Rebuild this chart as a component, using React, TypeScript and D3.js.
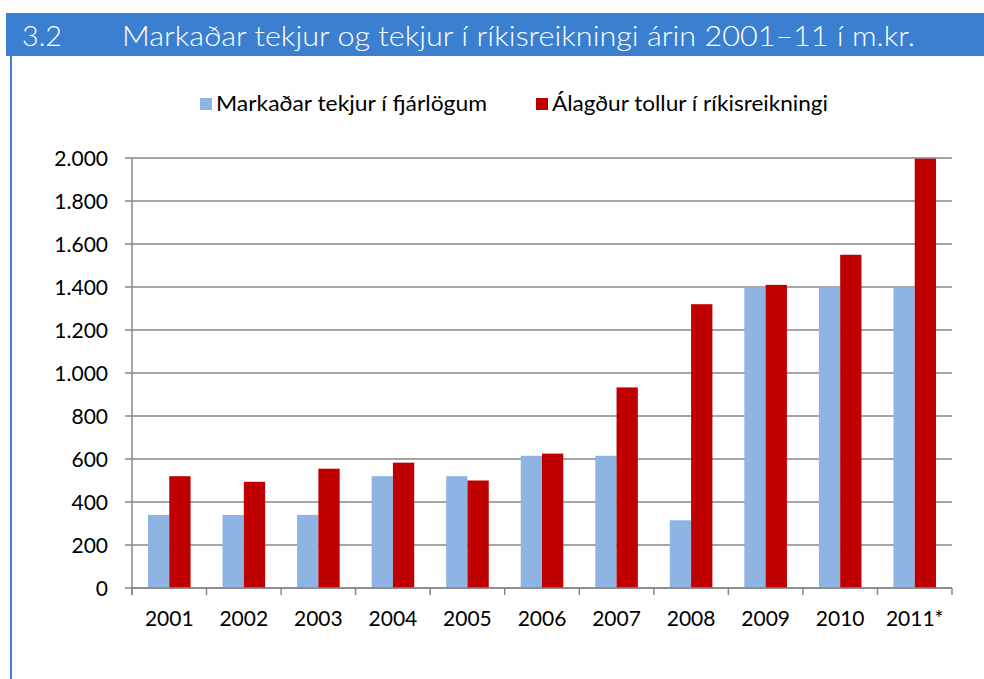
import React from 'react';
import * as d3 from 'd3';

const years = ['2001', '2002', '2003', '2004', '2005', '2006', '2007', '2008', '2009', '2010', '2011*'];
const fjarlog = [340, 340, 340, 520, 520, 615, 615, 315, 1400, 1400, 1400];
const rikisreikningur = [520, 494, 555, 583, 500, 625, 933, 1320, 1410, 1550, 1997];
const seriesNames = ['Markaðar tekjur í fjárlögum', 'Álagður tollur í ríkisreikningi'];
const seriesColors = ['#8eb4e3', '#c00000'];
const yTicks = [0, 200, 400, 600, 800, 1000, 1200, 1400, 1600, 1800, 2000];

const W = 984;
const H = 679;
const margin = { top: 158, right: 32, bottom: 91, left: 132 };

const fmt = (v: number) => d3.format(',')(v).replace(/,/g, '.');

export default function App() {
  const x = d3.scaleBand<string>()
    .domain(years)
    .range([margin.left, W - margin.right])
    .paddingInner(0)
    .paddingOuter(0);

  // two bars side by side in the middle of each year band
  const x1 = d3.scaleBand<string>()
    .domain(['a', 'b'])
    .range([0, x.bandwidth()])
    .paddingInner(0)
    .paddingOuter(0.75);

  const y = d3.scaleLinear()
    .domain([0, 2000])
    .range([H - margin.bottom, margin.top]);

  const series = [fjarlog, rikisreikningur];
  const font = 'Lato, "Open Sans", sans-serif';
  const grid = '#878787';
  const x0 = margin.left;
  const xEnd = W - margin.right;

  return (
    <svg width={W} height={H} style={{ position: 'absolute', left: 0, top: 0, background: '#fff' }} fontFamily={font}>
      {/* title bar */}
      <rect x={6} y={13} width={W - 6} height={43} fill="#3b7fd1" />
      <line x1={11} x2={11} y1={56} y2={H} stroke="#3b7fd1" strokeWidth={2} />
      <text x={22} y={46} fill="#fff" fontSize={28} fontWeight={300} textLength={40} lengthAdjust="spacingAndGlyphs">3.2</text>
      <text x={122} y={46} fill="#fff" fontSize={28} fontWeight={300} textLength={793} lengthAdjust="spacingAndGlyphs">
        Markaðar tekjur og tekjur í ríkisreikningi árin 2001–11 í m.kr.
      </text>

      {/* legend */}
      <rect x={200} y={98} width={12} height={12} fill={seriesColors[0]} />
      <text x={216} y={111} fontSize={21} fill="#000" textLength={271} lengthAdjust="spacingAndGlyphs">{seriesNames[0]}</text>
      <rect x={536} y={98} width={12} height={12} fill={seriesColors[1]} />
      <text x={552} y={111} fontSize={21} fill="#000" textLength={276} lengthAdjust="spacingAndGlyphs">{seriesNames[1]}</text>

      {/* gridlines and y ticks */}
      {yTicks.map(t => (
        <g key={t}>
          <line x1={x0 - 7} x2={xEnd} y1={y(t)} y2={y(t)} stroke={grid} strokeWidth={1.5} />
          <text x={108} y={y(t)} dy="0.36em" textAnchor="end" fontSize={21} fill="#000">{fmt(t)}</text>
        </g>
      ))}
      <line x1={x0} x2={x0} y1={y(2000)} y2={y(0) + 7} stroke={grid} strokeWidth={1.5} />

      {/* bars */}
      {years.map((yr, i) => (
        <g key={yr} transform={`translate(${x(yr)},0)`}>
          {series.map((s, j) => (
            <rect
              key={j}
              x={x1(j === 0 ? 'a' : 'b')}
              y={y(s[i])}
              width={x1.bandwidth()}
              height={y(0) - y(s[i])}
              fill={seriesColors[j]}
            />
          ))}
        </g>
      ))}

      {/* x axis */}
      <line x1={x0} x2={xEnd} y1={y(0)} y2={y(0)} stroke={grid} strokeWidth={1.5} />
      {years.map(yr => (
        <line key={yr} x1={x(yr)} x2={x(yr)} y1={y(0)} y2={y(0) + 7} stroke={grid} strokeWidth={1.5} />
      ))}
      <line x1={xEnd} x2={xEnd} y1={y(0)} y2={y(0) + 7} stroke={grid} strokeWidth={1.5} />
      {years.map(yr => (
        <text key={yr} x={(x(yr) as number) + x.bandwidth() / 2} y={626} textAnchor="middle" fontSize={21} fill="#000">{yr}</text>
      ))}
    </svg>
  );
}
